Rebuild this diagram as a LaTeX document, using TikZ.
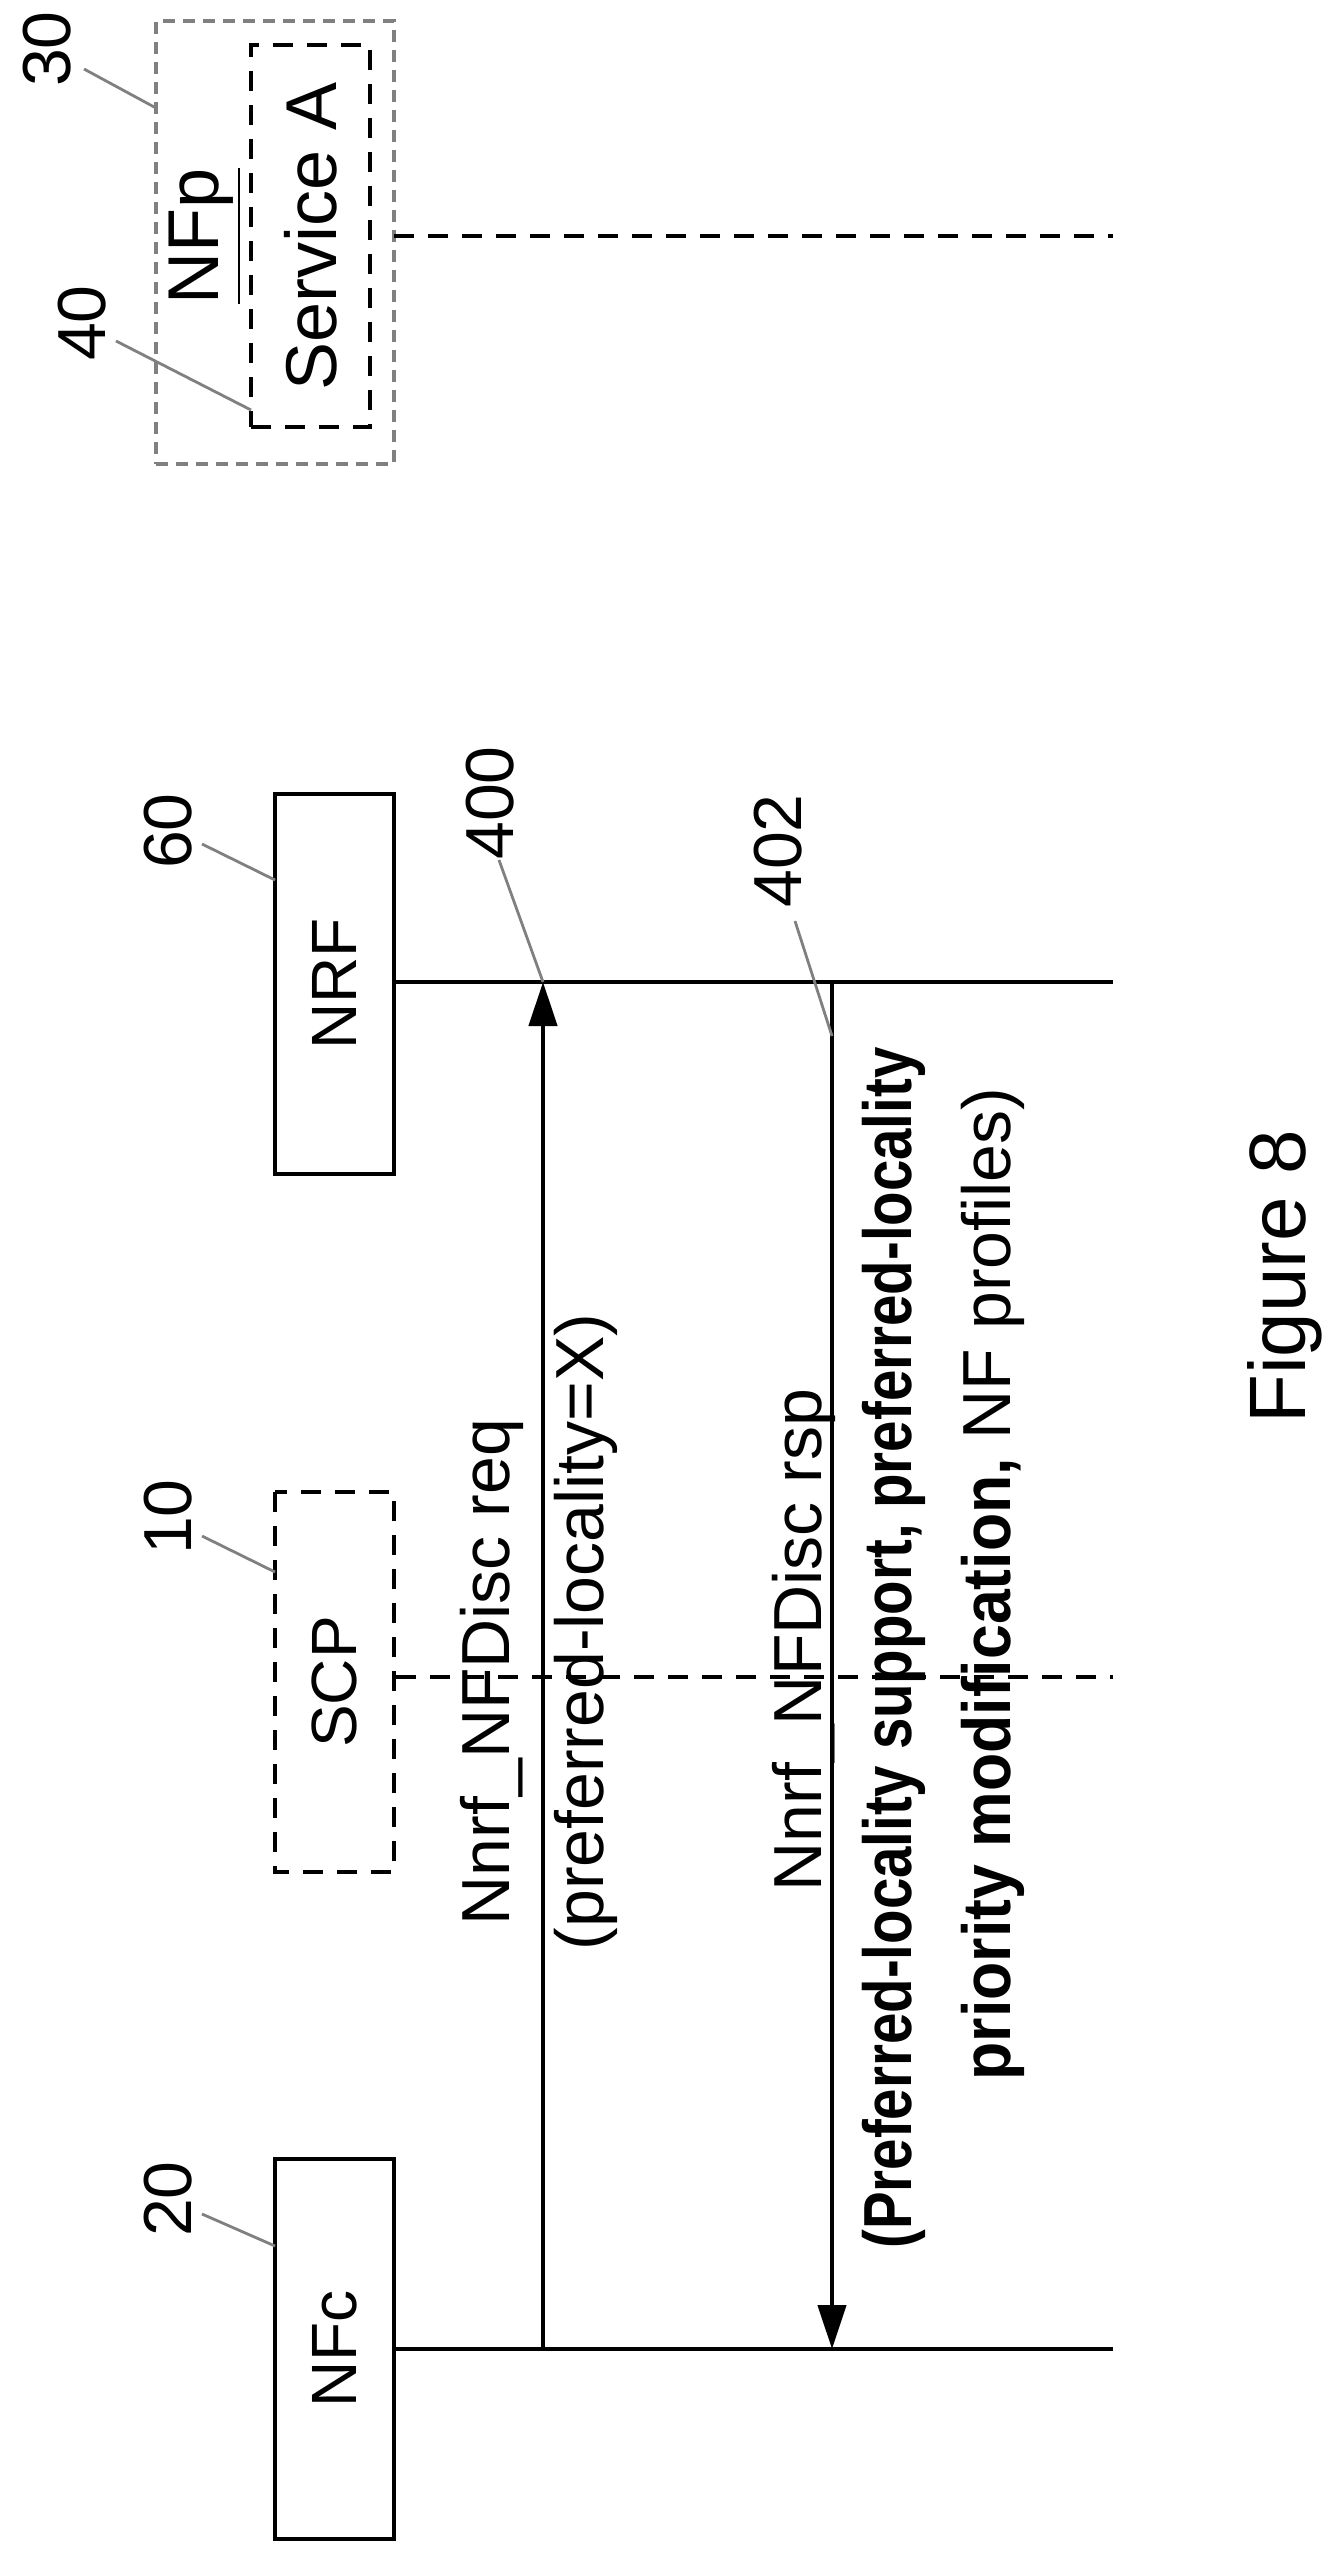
\documentclass[tikz,border=0pt]{standalone}
\usepackage{fontspec}
\setmainfont{Liberation Sans}
\usetikzlibrary{arrows.meta}

\tikzset{
  entity/.style={draw, line width=1.1pt, rotate=90, minimum width=95pt, minimum height=29.75pt, font=\fontsize{16}{18}\selectfont},
  lifeline/.style={line width=1.1pt},
  longdash/.style={dash pattern=on 5pt off 3.5pt},
  msg/.style={line width=1.1pt, -{Triangle[length=11pt, width=7pt]}},
  refnum/.style={rotate=90, font=\fontsize{17}{19}\selectfont},
  leader/.style={gray, line width=0.7pt},
  msglabel/.style={rotate=90, font=\fontsize{17}{20}\selectfont}
}

\begin{document}
\begin{tikzpicture}[x=0.25pt, y=-0.25pt]
  \useasboundingbox (0,0) rectangle (1341,2559);

  % ====== NFp with Service A ======
  \node[draw=gray, line width=1.2pt, dash pattern=on 3pt off 2pt, minimum width=59.5pt, minimum height=110.75pt, inner sep=0pt] (nfp) at (275,242.5) {};
  \node[draw, longdash, line width=1.1pt, minimum width=29.75pt, minimum height=95.5pt, inner sep=0pt] (svca) at (310.5,236) {};
  \node[rotate=90, font=\fontsize{18}{20}\selectfont] (nfptext) at (205,236) {\underline{NFp}};
  \node[rotate=90, font=\fontsize{18}{20}\selectfont] (svcatext) at (310.5,236) {Service A};
  \coordinate (nfpend) at (1113,236);
  \draw[lifeline, longdash] (394,236) -- (nfpend);

  % ====== NRF, SCP, NFc ======
  \node[entity] (nrf) at (334.5,984) {NRF};
  \node[entity, longdash] (scp) at (334.5,1682) {SCP};
  \node[entity] (nfc) at (334.5,2349) {NFc};

  % Lifelines
  \coordinate (nrfend) at (1113,982);
  \coordinate (scpend) at (1113,1677);
  \coordinate (nfcend) at (1113,2349);
  \draw[lifeline] (nrf.south |- nrfend) -- (nrfend);
  \draw[lifeline, longdash] (scp.south |- scpend) -- (scpend);
  \draw[lifeline] (nfc.south |- nfcend) -- (nfcend);

  % Reference numbers
  \node[refnum] (n30) at (47,49) {30};
  \node[refnum] (n40) at (82,323) {40};
  \node[refnum] (n60) at (168,831) {60};
  \node[refnum] (n10) at (168,1517) {10};
  \node[refnum] (n20) at (168,2199) {20};
  \node[refnum] (n400) at (490,803) {400};
  \node[refnum] (n402) at (778,851) {402};
  \draw[leader] (84,69) -- (156,108);
  \draw[leader] (116,341) -- (251,410);
  \draw[leader] (202,844) -- (275,880);
  \draw[leader] (202,1536) -- (275,1572);
  \draw[leader] (202,2214) -- (275,2246);

  % Messages
  \coordinate (reqfrom) at (543,2349);
  \coordinate (reqto) at (543,982);
  \coordinate (rspfrom) at (832,982);
  \coordinate (rspto) at (832,2349);
  \draw[msg] (reqfrom) -- (reqto);
  \draw[msg] (rspfrom) -- (rspto);
  \draw[leader] (499,860) -- (reqto);
  \draw[leader] (795,921) -- (832,1036);

  \node[msglabel] (reqlbl) at (492,1672) {Nnrf\_NFDisc req};
  \node[msglabel] (reqpar) at (586,1632) {(preferred-locality=X)};
  \node[msglabel] (rsplbl) at (804,1640) {Nnrf\_NFDisc rsp};
  \node[msglabel] (rsppar1) at (894,1648) {\scalebox{0.83}[1]{\bfseries (Preferred-locality support, preferred-locality}};
  \node[msglabel] (rsppar2) at (993,1584) {\scalebox{0.92}[1]{\bfseries priority modification,} NF profiles)};

  % Caption
  \node[rotate=90, font=\fontsize{20}{24}\selectfont] (caption) at (1285,1277) {Figure 8};
\end{tikzpicture}
\end{document}
